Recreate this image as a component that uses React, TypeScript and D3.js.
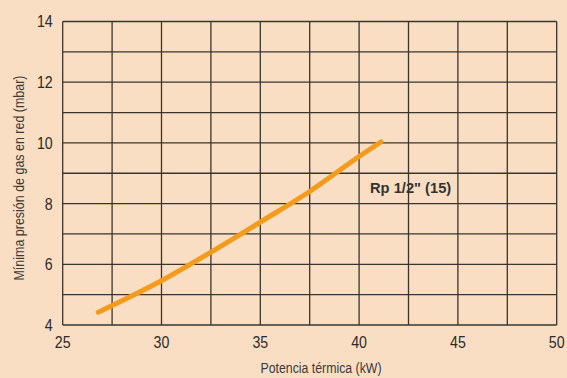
import React from "react";
import * as d3 from "d3";

const xTicks = [25, 30, 35, 40, 45, 50];
const yTicks = [4, 6, 8, 10, 12, 14];
const curveX = [26.8, 28, 30, 32.5, 35, 37.5, 40, 41.1];
const curveY = [4.42, 4.8, 5.46, 6.4, 7.39, 8.4, 9.55, 10.03];
const seriesLabel = 'Rp 1/2" (15)';
const xTitle = "Potencia térmica (kW)";
const yTitle = "Mínima presión de gas en red (mbar)";

const W = 567, H = 378;
const m = { left: 62.7, right: 10.3, top: 21.5, bottom: 53 };
const FONT = "'Liberation Sans', Arial, sans-serif";

function NText(props: { x: number; y: number; size: number; sx: number; anchor: string; rotate?: number; fill: string; children: any }) {
  const { x, y, size, sx, anchor, rotate, fill, children } = props;
  return (
    <text
      transform={`translate(${x},${y})${rotate ? ` rotate(${rotate})` : ""} scale(${sx},1)`}
      textAnchor={anchor}
      fontFamily={FONT}
      fontSize={size}
      fill={fill}
    >
      {children}
    </text>
  );
}

export default function App() {
  const x = d3.scaleLinear().domain([25, 50]).range([m.left, W - m.right]);
  const y = d3.scaleLinear().domain([4, 14]).range([H - m.bottom, m.top]);
  const xGrid = d3.range(25, 50.01, 2.5);
  const yGrid = d3.range(4, 14.01, 1);
  const pts: [number, number][] = curveX.map((v, i) => [v, curveY[i]]);
  const line = d3.line<[number, number]>().x(d => x(d[0])).y(d => y(d[1])).curve(d3.curveMonotoneX);
  return (
    <svg width={W} height={H} style={{ position: "absolute", left: 0, top: 0, background: "#f9dec3" }}>
      <rect x={0} y={0} width={W} height={H} fill="#f9dec3" />
      {xGrid.map(v => (
        <line key={"xg" + v} x1={x(v)} x2={x(v)} y1={y(4)} y2={y(14)} stroke="#3a342e" strokeWidth={1.3} />
      ))}
      {yGrid.map(v => (
        <line key={"yg" + v} x1={x(25)} x2={x(50)} y1={y(v)} y2={y(v)} stroke="#3a342e" strokeWidth={1.3} />
      ))}
      {xTicks.map(v => (
        <NText key={"xt" + v} x={x(v)} y={347.6} size={16.5} sx={0.86} anchor="middle" fill="#2b2b2b">{v}</NText>
      ))}
      {yTicks.map(v => (
        <NText key={"yt" + v} x={52.7} y={y(v) + 5.9} size={16.5} sx={0.86} anchor="end" fill="#2b2b2b">{v}</NText>
      ))}
      <NText x={321} y={373} size={14.5} sx={0.85} anchor="middle" fill="#3a3a3a">{xTitle}</NText>
      <NText x={24} y={178} rotate={-90} size={14.5} sx={0.86} anchor="middle" fill="#3a3a3a">{yTitle}</NText>
      <path d={line(pts) || ""} fill="none" stroke="#f39c1b" strokeWidth={5} strokeLinecap="round" />
      <text x={370} y={193} fontFamily={FONT} fontWeight="bold" fontSize={14.7} fill="#333">{seriesLabel}</text>
    </svg>
  );
}
